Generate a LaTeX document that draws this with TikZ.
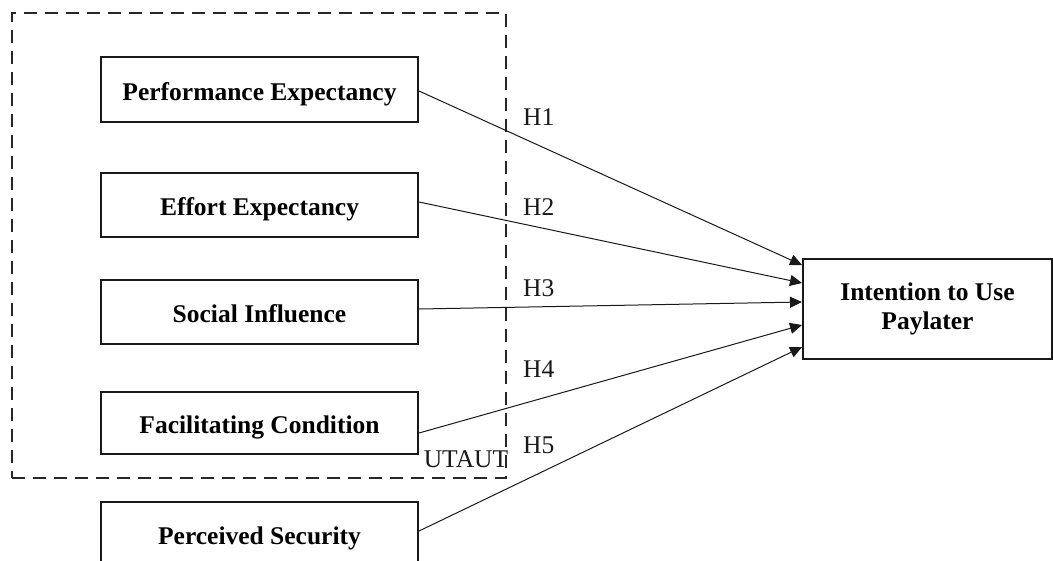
\documentclass[tikz,border=0pt]{standalone}
\usepackage{fontspec}
\setmainfont{Liberation Serif}
\usetikzlibrary{arrows.meta}
\begin{document}
\begin{tikzpicture}[x=1pt,y=-1pt,
  every node/.style={font=\fontsize{25.5}{29}\selectfont},
  cbox/.style={draw=black!90, line width=2pt, inner sep=0pt, font=\fontsize{25.5}{29}\selectfont\bfseries, align=center},
  onebox/.style={cbox, minimum width=317pt, text height=21pt, text depth=0pt},
  frame/.style={draw=black!85, line width=2pt, dash pattern=on 13pt off 8pt, inner sep=0pt},
  link/.style={draw=black!90, line width=1pt, -{Triangle[length=12pt,width=11pt]}},
  hlabel/.style={anchor=west, inner sep=0pt, text=black!90}
]
\useasboundingbox (0,0) rectangle (1053,560);
\node[frame, minimum width=494pt, minimum height=465pt] (utaut) at (259,245.5) {};
\node[onebox, minimum height=65pt] (pe) at (259.5,89.5) {Performance Expectancy};
\node[onebox, minimum height=64pt] (ee) at (259.5,205) {Effort Expectancy};
\node[onebox, minimum height=64pt] (si) at (259.5,312) {Social Influence};
\node[onebox, minimum height=62pt] (fc) at (259.5,423) {Facilitating Condition};
\node[onebox, minimum height=64pt] (ps) at (259.5,534) {Perceived Security};
\node[cbox, minimum width=249pt, minimum height=100pt] (ip) at (927.5,309) {Intention to Use\\Paylater};
\node[inner sep=0pt, text=black!90] (utautlbl) at (466,459) {UTAUT};
\draw[link] ([yshift=-1.5pt]pe.east) -- ([yshift=44pt]ip.west);
\draw[link] ([yshift=3pt]ee.east) -- ([yshift=26pt]ip.west);
\draw[link] ([yshift=3pt]si.east) -- ([yshift=7pt]ip.west);
\draw[link] ([yshift=-10pt]fc.east) -- ([yshift=-16pt]ip.west);
\draw[link] ([yshift=3pt]ps.east) -- ([yshift=-38pt]ip.west);
\node[hlabel] (h1) at (523,117) {H1};
\node[hlabel] (h2) at (523,207) {H2};
\node[hlabel] (h3) at (523,288) {H3};
\node[hlabel] (h4) at (523,369) {H4};
\node[hlabel] (h5) at (523,445) {H5};
\end{tikzpicture}
\end{document}
